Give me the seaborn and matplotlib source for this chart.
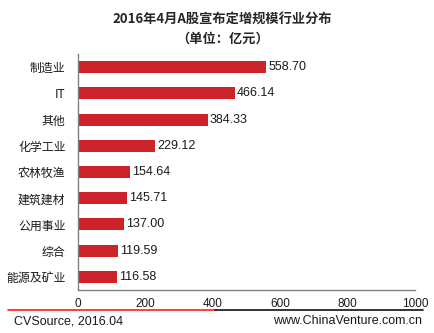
import matplotlib
matplotlib.use("Agg")
import matplotlib.pyplot as plt
import seaborn as sns
import pandas as pd
from matplotlib.lines import Line2D

industries = ["制造业", "IT", "其他", "化学工业", "农林牧渔", "建筑建材", "公用事业", "综合", "能源及矿业"]
amounts = [558.70, 466.14, 384.33, 229.12, 154.64, 145.71, 137.00, 119.59, 116.58]
x_ticks = [0, 200, 400, 600, 800, 1000]

sns.set_theme(style="white")
plt.rcParams["font.family"] = ["Liberation Sans", "Noto Sans CJK SC", "DejaVu Sans"]

df = pd.DataFrame({"industry": industries, "amount": amounts})

fig = plt.figure(figsize=(4.34, 3.33), dpi=100)
ax = fig.add_axes([78 / 434, 1 - 290 / 333, (415 - 78) / 434, (290 - 54) / 333])

sns.barplot(data=df, x="amount", y="industry", color="#CC2229", width=0.46,
            saturation=1, ax=ax, orient="h", linewidth=0)

for i, v in enumerate(amounts):
    ax.text(v + 6, i, f"{v:.2f}", va="center", ha="left", fontsize=9, color="#1a1a1a")

ax.set_xlim(0, 1000)
ax.set_ylim(8.5, -0.5)
ax.set_xticks(x_ticks)
ax.set_xticklabels([str(t) for t in x_ticks], fontsize=8.5, color="#1a1a1a")
ax.tick_params(axis="y", labelsize=8.6, pad=9, length=0, labelcolor="#1a1a1a")
ax.tick_params(axis="x", pad=6, length=0)
for lab in ax.get_yticklabels():
    lab.set_fontfamily(["Noto Sans CJK SC", "DejaVu Sans"])
ax.set_xlabel("")
ax.set_ylabel("")
for s in ["top", "right"]:
    ax.spines[s].set_visible(False)
for s in ["left", "bottom"]:
    ax.spines[s].set_color("#808080")
    ax.spines[s].set_linewidth(1.0)

fig.text(0.512, 1 - 20 / 333, "2016年4月A股宣布定增规模行业分布", ha="center", va="center",
         fontsize=9.5, fontweight="bold", family=["Noto Sans CJK SC", "DejaVu Sans"])
fig.text(0.512, 1 - 39 / 333, "（单位：亿元）", ha="center", va="center",
         fontsize=9.5, fontweight="bold", family=["Noto Sans CJK SC", "DejaVu Sans"])

y_line = 1 - 310 / 333
fig.add_artist(Line2D([8 / 434, 215 / 434], [y_line, y_line], color="#FF1E1E", lw=1.2))
fig.add_artist(Line2D([215 / 434, 423 / 434], [y_line, y_line], color="#111111", lw=1.2))

fig.text(14 / 434, 1 - 321 / 333, "CVSource, 2016.04", ha="left", va="center",
         fontsize=9, color="#1a1a1a")
fig.text(422 / 434, 1 - 321 / 333, "www.ChinaVenture.com.cn", ha="right", va="center",
         fontsize=9, color="#1a1a1a")

fig.savefig("out.png", dpi=100)
